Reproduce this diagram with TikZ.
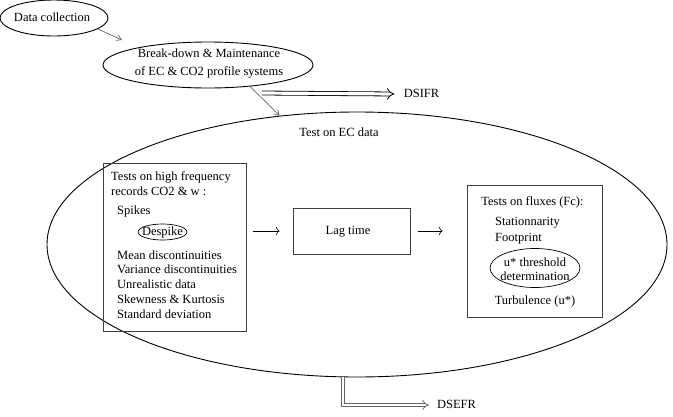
\documentclass[tikz,border=0pt]{standalone}
\usepackage{fontspec}
\setmainfont{Liberation Serif}
\usetikzlibrary{shapes.geometric,arrows.meta}
\begin{document}
\begin{tikzpicture}[x=1pt,y=-1pt,
  txt/.style={font=\fontsize{12.5}{15}\selectfont, inner sep=0pt, text height=9pt, text depth=3pt},
  txtml/.style={inner sep=0pt, align=center},
  oval/.style={ellipse, draw=black, line width=0.9pt, inner sep=0pt},
  box/.style={rectangle, draw=black!75, line width=0.9pt, inner sep=0pt},
  thinarrow/.style={draw=black!60, line width=0.7pt, -{Straight Barb[length=5pt,width=6pt]}},
  flowarrow/.style={draw=black, line width=0.6pt, -{To[length=3.5pt,width=8pt]}},
  dblarrow/.style={double, double distance=3.2pt, line width=0.8pt, -{Implies[]}},
]
\useasboundingbox (0,0) rectangle (673,416);

% top ellipses
\node[oval, minimum width=108pt, minimum height=36pt] (dc) at (54,18) {};
\node[txt] (dct) at (52,18) {Data collection};
\node[oval, minimum width=210pt, minimum height=46pt] (bd) at (208,65) {};
\node[txtml, font=\fontsize{12.5}{18}\selectfont] (bdt) at (209,64) {Break-down \& Maintenance\\of EC \& CO2 profile systems};

% big ellipse
\node[oval, minimum width=620pt, minimum height=265pt] (big) at (357,244.5) {};
\node[txt] (title) at (339,133) {Test on EC data};

% connectors between top ellipses
\coordinate (a1end) at (122,40);
\draw[thinarrow] (dc.-14) -- (a1end);

% DSIFR
\coordinate (dsistart) at (262,93);
\node[txt] (dsifr) at (421.5,94) {DSIFR};
\draw[dblarrow, draw=black] (dsistart) -- ([xshift=-9pt]dsifr.west);
\draw[thinarrow] (bd.-27) -- (big.121);

% left box
\node[box, minimum width=143pt, minimum height=168pt] (lbox) at (174.5,247) {};
\node[txt, anchor=west] (l1) at (111,177) {Tests on high frequency};
\node[txt, anchor=west] (l2) at (111,192) {records CO2 \& w :};
\node[txt, anchor=west] (l3) at (117,211) {Spikes};
\node[oval, minimum width=49pt, minimum height=16pt, line width=0.7pt] (desp) at (162.5,232) {};
\node[txt] (despt) at (162.5,232) {Despike};
\node[txt, anchor=west] (l4) at (117,256) {Mean discontinuities};
\node[txt, anchor=west] (l5) at (117,270.5) {Variance discontinuities};
\node[txt, anchor=west] (l6) at (117,285) {Unrealistic data};
\node[txt, anchor=west] (l7) at (117,300) {Skewness \& Kurtosis};
\node[txt, anchor=west] (l8) at (117,315) {Standard deviation};

% lag time box
\node[box, minimum width=117pt, minimum height=46pt] (lag) at (351.5,231) {};
\node[txt] (lagt) at (348,231) {Lag time};

% right box
\node[box, minimum width=135pt, minimum height=132pt] (rbox) at (534.5,251) {};
\node[txt] (r1) at (532.5,202) {Tests on fluxes (Fc):};
\node[txt, anchor=west] (r2) at (495,222) {Stationnarity};
\node[txt, anchor=west] (r3) at (495,238) {Footprint};
\node[oval, minimum width=90pt, minimum height=39pt, line width=0.7pt] (ust) at (535,268) {};
\node[txtml, font=\fontsize{12.5}{14}\selectfont] (ustt) at (535,269) {u* threshold\\determination};
\node[txt] (r4) at (535,301) {Turbulence (u*)};

% flow arrows
\draw[flowarrow, shorten <=7pt, shorten >=13pt] (lbox.east |- lag.west) -- (lag.west);
\draw[flowarrow, shorten <=8pt, shorten >=24pt] (lag.east) -- (rbox.west |- lag.east);

% DSEFR
\node[txt] (dsefr) at (456.5,405) {DSEFR};
\draw[dblarrow, draw=black!60, double distance=2.6pt] ([xshift=-14pt]big.south) |- ([xshift=-8pt]dsefr.west);
\end{tikzpicture}
\end{document}
